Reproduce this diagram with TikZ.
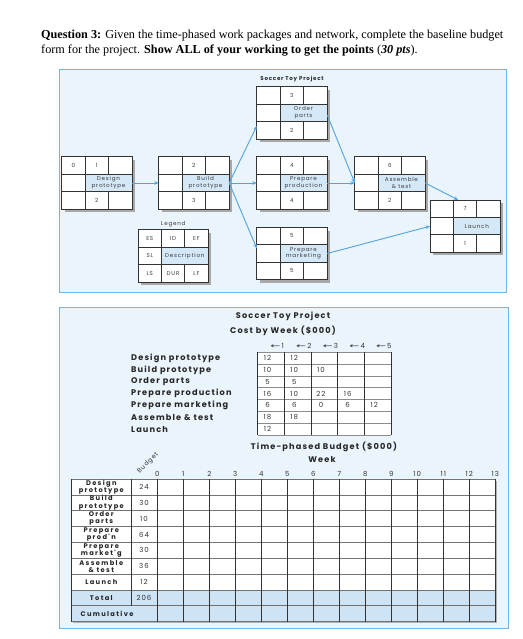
\documentclass[tikz,border=0pt]{standalone}
\usepackage{fontspec}
\setmainfont{Liberation Serif}
\newfontfamily\popw[LetterSpace=14]{Poppins}
\newfontfamily\popx[LetterSpace=20]{Poppins}
\newfontfamily\dejavu{DejaVu Sans}
\usetikzlibrary{arrows.meta,calc,shadows}
\definecolor{panelfill}{HTML}{EAF4FC}
\definecolor{panelline}{HTML}{6BB8EA}
\definecolor{descfill}{HTML}{D4E8F8}
\definecolor{totfill}{HTML}{CDE3F6}
\definecolor{arrowblue}{HTML}{4FA3E2}
\definecolor{shadowgray}{HTML}{A8A8A8}
\definecolor{txtgray}{HTML}{3A3A3A}
\tikzset{
  panel/.style={draw=panelline, line width=1pt, fill=panelfill},
  nbox/.style={rectangle, minimum width=70pt, minimum height=52pt, inner sep=0pt, fill=white,
    drop shadow={shadow xshift=3pt, shadow yshift=-3pt, fill=shadowgray, opacity=1}},
  gridline/.style={draw=black!80, line width=0.7pt},
  celltxt/.style={inner sep=0pt, text=txtgray, font=\popw\fontsize{5.6}{6.6}\selectfont, align=center},
  flow/.style={draw=arrowblue, line width=0.9pt, -{Stealth[length=4.5pt,width=3.5pt]}},
  btitle/.style={inner sep=0pt, font=\popw\bfseries\fontsize{8.2}{9}\selectfont, text=black!85},
  rowlab/.style={inner sep=0pt, anchor=west, font=\popw\bfseries\fontsize{8.2}{9}\selectfont, text=black!85},
  val/.style={inner sep=0pt, font=\popw\fontsize{7}{8}\selectfont, text=black!80},
  tlab/.style={inner sep=0pt, align=center, font=\popx\bfseries\fontsize{6.7}{7.2}\selectfont, text=black!85},
  vline/.style={draw=black!80, line width=0.9pt},
  hline/.style={draw=black!45, line width=0.7pt},
}
\newcommand\boxcells[9]{%
  \fill[descfill] ($(#1.north west)+(23.33,17.33)$) rectangle ($(#1.north west)+(70,34.67)$);
  \draw[gridline] ($(#1.north west)+(0,17.33)$) -- ++(70,0);
  \draw[gridline] ($(#1.north west)+(0,34.67)$) -- ++(70,0);
  \draw[gridline] ($(#1.north west)+(23.33,0)$) -- ++(0,52);
  \draw[gridline] ($(#1.north west)+(46.67,0)$) -- ++(0,17.33);
  \draw[gridline] ($(#1.north west)+(46.67,34.67)$) -- ++(0,17.33);
  \draw[gridline] (#1.north west) rectangle (#1.south east);
  \node[celltxt] (#1-es) at ($(#1.north west)+(11.67,8.67)$) {#2};
  \node[celltxt] (#1-id) at ($(#1.north west)+(35,8.67)$) {#3};
  \node[celltxt] (#1-ef) at ($(#1.north west)+(58.33,8.67)$) {#4};
  \node[celltxt] (#1-sl) at ($(#1.north west)+(11.67,26)$) {#5};
  \node[celltxt] (#1-ds) at ($(#1.north west)+(46.67,26)$) {#6};
  \node[celltxt] (#1-ls) at ($(#1.north west)+(11.67,43.33)$) {#7};
  \node[celltxt] (#1-du) at ($(#1.north west)+(35,43.33)$) {#8};
  \node[celltxt] (#1-lf) at ($(#1.north west)+(58.33,43.33)$) {#9};
}
\begin{document}
\begin{tikzpicture}[x=1pt,y=-1pt]
\fill[white] (0,0) rectangle (522,639);
\useasboundingbox (0,0) rectangle (522,639);

% question text
\node[anchor=base west, inner sep=0pt, font=\fontsize{12.2}{14}\selectfont] (q1) at (41,39)
  {\textbf{Question 3:} Given the time-phased work packages and network, complete the baseline budget};
\node[anchor=base west, inner sep=0pt, font=\fontsize{12.2}{14}\selectfont] (q2) at (41,54)
  {form for the project. \textbf{Show ALL of your working to get the points} (\textbf{\textit{30 pts}}).};

% ---------- top panel: network ----------
\draw[panel] (59,70) rectangle (506,292);
\node[btitle, font=\popw\bfseries\fontsize{5.5}{6}\selectfont] (t1) at (292,79) {Soccer Toy Project};

\node[nbox] (op) at (292,113) {};
\node[nbox] (dp) at (97,183) {};
\node[nbox] (bp) at (194,183) {};
\node[nbox] (pp) at (292,183) {};
\node[nbox] (at) at (390,183) {};
\node[nbox] (la) at (465.3,226.2) {};
\node[nbox] (pm) at (292,253.5) {};
\node[nbox] (lg) at (173.3,256) {};

\boxcells{op}{}{3}{}{}{Order\\parts}{}{2}{}
\boxcells{dp}{0}{1}{}{}{Design\\prototype}{}{2}{}
\boxcells{bp}{}{2}{}{}{Build\\prototype}{}{3}{}
\boxcells{pp}{}{4}{}{}{Prepare\\production}{}{4}{}
\boxcells{at}{}{6}{}{}{Assemble\\\& test}{}{2}{}
\boxcells{la}{}{7}{}{}{Launch}{}{1}{}
\boxcells{pm}{}{5}{}{}{Prepare\\marketing}{}{5}{}
\boxcells{lg}{ES}{ID}{EF}{SL}{Description}{LS}{DUR}{LF}
\node[celltxt] (lgt) at (173.3,224) {Legend};

\coordinate (op-in) at ($(op.west)+(0,13)$);
\coordinate (pm-in) at ($(pm.west)+(0,-5)$);
\coordinate (la-top) at ($(la.north)+(-7,0)$);
\coordinate (op-out) at ($(op.east)+(0,2)$);
\draw[flow] (dp.east) -- (bp.west);
\draw[flow] (bp.east) -- (op-in);
\draw[flow] (bp.east) -- (pp.west);
\draw[flow] (bp.east) -- (pm-in);
\draw[flow] (op-out) -- (at.west);
\draw[flow] (pp.east) -- (at.west);
\draw[flow] (at.east) -- (la-top);
\draw[flow] (pm.east) -- (la.west);

% ---------- bottom panel ----------
\draw[panel] (59,307) rectangle (508,628);
\node[btitle] (t2) at (283,316) {Soccer Toy Project};
\node[btitle] (t3) at (283,331) {Cost by Week (\$000)};

% cost table
\fill[white] (257.7,352.3) rectangle (391.2,434.9);
\foreach \i in {0,...,7} { \draw[hline] (257.7,352.3+11.8*\i) -- (391.2,352.3+11.8*\i); }
\foreach \j in {0,...,5} { \draw[vline] (257.7+26.7*\j,352.3) -- (257.7+26.7*\j,434.9); }
\foreach \j in {1,...,5} {
  \node[val] (wk\j) at (257.7+26.7*\j-26.7/2+6,345.7) {{\dejavu\scalebox{1.7}[1]{←}}\,\j};
}
\foreach \lab [count=\i] in {Design prototype,Build prototype,Order parts,Prepare production,Prepare marketing,Assemble \& test,Launch} {
  \node[rowlab] (rl\i) at (131,352.3+11.8*\i-5.9) {\lab};
}
\foreach \r/\vals in {1/{12,12},2/{10,10,10},3/{5,5},4/{16,10,22,16},5/{6,6,0,6,12},6/{18,18},7/{12}} {
  \foreach \v [count=\c] in \vals {
    \node[val] (cv\r-\c) at (257.7+26.7*\c-13.35-3.5,352.3+11.8*\r-5.9) {\v};
  }
}
\node[btitle] (t4) at (324,447) {Time-phased Budget (\$000)};
\node[btitle] (t5) at (322,459) {Week};
\node[val, rotate=45, font=\popw\fontsize{6.2}{7}\selectfont] (bud) at (148,463) {Budget};
\foreach \k in {0,...,13} { \node[val] (wn\k) at (157.3+26*\k,474) {\k}; }

% budget table
\fill[black!30] (73.2,480.5) rectangle (496.8,623.1);
\fill[white] (71.7,479) rectangle (495.3,589.95);
\fill[totfill] (71.7,589.95) rectangle (495.3,621.6);
\foreach \i in {0,...,9} { \draw[hline, draw=black!55] (71.7,479+15.85*\i) -- (495.3,479+15.85*\i); }
\draw[vline] (71.7,479) -- (71.7,621.6);
\draw[vline] (131,479) -- (131,605.8);
\foreach \j in {0,...,13} { \draw[vline] (157.3+26*\j,479) -- (157.3+26*\j,621.6); }
\foreach \lab/\b [count=\i] in {{Design\\prototype}/24,{Build\\prototype}/30,{Order\\parts}/10,{Prepare\\prod'n}/64,{Prepare\\market'g}/30,{Assemble\\\& test}/36,{Launch}/12} {
  \node[tlab] (bl\i) at (101.3,479+15.85*\i-7.9) {\lab};
  \node[val] (bv\i) at (144,479+15.85*\i-7.9) {\b};
}
\node[tlab] (tot) at (101.3,479+15.85*8-7.9) {Total};
\node[val] (totv) at (144,479+15.85*8-7.9) {206};
\node[tlab] (cum) at (107,479+15.85*9-7.9) {Cumulative};
\end{tikzpicture}
\end{document}
